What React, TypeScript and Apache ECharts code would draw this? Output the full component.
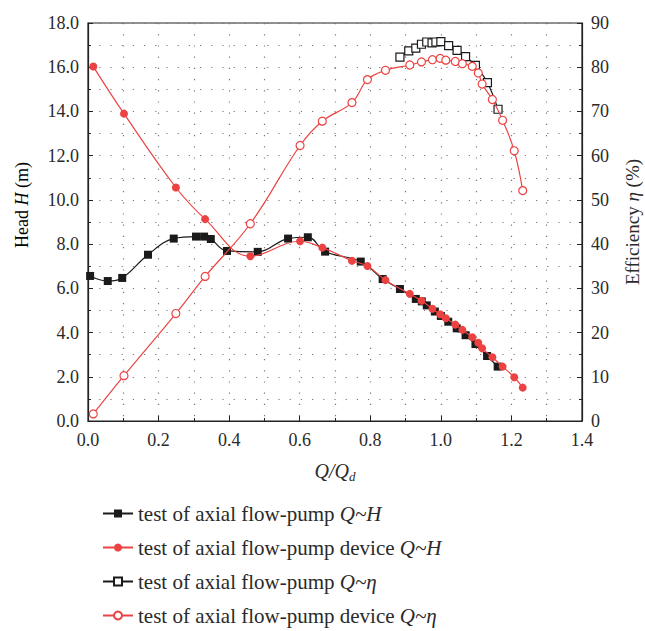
import React, { useEffect, useRef } from "react";
import * as echarts from "echarts";

const qPumpH = [0.006, 0.056, 0.097, 0.17, 0.243, 0.306, 0.329, 0.348, 0.394, 0.481, 0.567, 0.623, 0.672, 0.773, 0.835, 0.884, 0.929, 0.946, 0.96, 0.983, 1.0, 1.021, 1.045, 1.07, 1.098, 1.131, 1.161];
const hPump = [6.56, 6.33, 6.47, 7.52, 8.25, 8.34, 8.34, 8.23, 7.69, 7.65, 8.25, 8.31, 7.66, 7.21, 6.42, 5.97, 5.52, 5.41, 5.23, 4.95, 4.75, 4.49, 4.19, 3.88, 3.48, 2.94, 2.46];

const qDevice = [0.015, 0.102, 0.249, 0.332, 0.46, 0.601, 0.664, 0.748, 0.792, 0.843, 0.912, 0.945, 0.976, 0.998, 1.014, 1.041, 1.061, 1.089, 1.106, 1.117, 1.146, 1.175, 1.208, 1.232];
const hDevice = [16.03, 13.9, 10.56, 9.13, 7.45, 8.13, 7.84, 7.25, 7.01, 6.37, 5.75, 5.44, 5.08, 4.83, 4.65, 4.36, 4.12, 3.79, 3.54, 3.29, 2.88, 2.46, 1.98, 1.51];
const etaDevice = [1.6, 10.25, 24.3, 32.7, 44.6, 62.3, 67.8, 72.0, 77.2, 79.3, 80.5, 81.2, 81.7, 82.0, 81.6, 81.3, 80.8, 80.2, 78.7, 76.2, 72.7, 68.0, 61.1, 52.1];

const qPumpEta = [0.884, 0.909, 0.929, 0.945, 0.96, 0.975, 0.986, 1.0, 1.022, 1.046, 1.07, 1.098, 1.132, 1.162];
const etaPump = [82.3, 83.7, 84.3, 85.2, 85.7, 85.5, 85.7, 85.8, 84.9, 83.8, 82.4, 80.4, 76.5, 70.5];

const legendNames = [
  "test of axial flow-pump Q~H",
  "test of axial flow-pump device Q~H",
  "test of axial flow-pump Q~η",
  "test of axial flow-pump device Q~η",
];

const FONT = "Liberation Serif";
const BLACK = "#1a1a1a";
const RED = "#ec4242";
const TEXT = "#2a2a2a";

function zip(xs: number[], ys: number[]) {
  return xs.map((x, i) => [x, ys[i]]);
}

export default function App() {
  const ref = useRef<HTMLDivElement>(null);
  useEffect(() => {
    if (!ref.current) return;
    const chart = echarts.init(ref.current, null, { renderer: "svg" });
    const dotted = { color: "#777", width: 1.2, type: [1.2, 10] as any };
    const richFor = (size: number) => ({
      n: { fontFamily: FONT, fontSize: size, color: TEXT },
      i: { fontFamily: FONT, fontSize: size, color: TEXT, fontStyle: "italic" },
      s: { fontFamily: FONT, fontSize: Math.round(size * 0.65), color: TEXT, fontStyle: "italic", padding: [11, 0, 0, 0] },
    });
    chart.setOption({
      animation: false,
      backgroundColor: "#fff",
      grid: { left: 88, right: 63, top: 23, bottom: 210, outerBoundsMode: "none", containLabel: false, show: true, borderColor: "#222", borderWidth: 1.2, backgroundColor: "transparent" },
      graphic: [
        {
          type: "text",
          x: 22,
          y: 205,
          rotation: Math.PI / 2,
          style: {
            text: "{n|Head }{i|H}{n| (m)}",
            rich: richFor(18),
            align: "center",
            verticalAlign: "middle",
          },
        },
      ],
      legend: {
        orient: "vertical",
        left: 102,
        top: 503,
        padding: 0,
        itemWidth: 30,
        itemHeight: 10,
        itemGap: 13,
        data: legendNames,
        formatter: (name: string) => {
          const idx = name.indexOf("Q~");
          return "{n|" + name.slice(0, idx) + "}{i|" + name.slice(idx) + "}";
        },
        textStyle: {
          fontFamily: FONT,
          fontSize: 21,
          color: TEXT,
          rich: {
            n: { fontFamily: FONT, fontSize: 21, color: TEXT },
            i: { fontFamily: FONT, fontSize: 21, color: TEXT, fontStyle: "italic" },
          },
        },
      },
      xAxis: {
        type: "value",
        min: 0,
        max: 1.4,
        interval: 0.2,
        name: "{i|Q/Q}{s|d}",
        nameLocation: "middle",
        nameGap: 38,
        nameTextStyle: { rich: richFor(20) },
        axisLine: { show: true, lineStyle: { color: "#222", width: 1.2 } },
        axisTick: { show: true, inside: true, length: 5, lineStyle: { color: "#222" } },
        minorTick: { show: true, splitNumber: 2, length: 3, lineStyle: { color: "#222" } },
        axisLabel: { fontFamily: FONT, fontSize: 18, color: TEXT, margin: 10, formatter: (v: number) => v.toFixed(1) },
        splitLine: { show: true, lineStyle: dotted },
        minorSplitLine: { show: true, lineStyle: dotted },
      },
      yAxis: [
        {
          type: "value",
          min: 0,
          max: 18,
          interval: 2,
          axisLine: { show: true, lineStyle: { color: "#222", width: 1.2 } },
          axisTick: { show: true, inside: true, length: 5, lineStyle: { color: "#222" } },
          minorTick: { show: true, splitNumber: 2, length: 3, lineStyle: { color: "#222" } },
          axisLabel: { fontFamily: FONT, fontSize: 18, color: TEXT, margin: 9, formatter: (v: number) => v.toFixed(1) },
          splitLine: { show: true, lineStyle: dotted },
          minorSplitLine: { show: true, lineStyle: dotted },
        },
        {
          type: "value",
          min: 0,
          max: 90,
          interval: 10,
          position: "right",
          name: "{n|Efficiency }{i|η}{n| (%)}",
          nameLocation: "middle",
          nameGap: 41,
          nameRotate: 90,
          nameTextStyle: { rich: richFor(19) },
          axisLine: { show: true, lineStyle: { color: "#222", width: 1.2 } },
          axisTick: { show: true, inside: true, length: 5, lineStyle: { color: "#222" } },
          minorTick: { show: true, splitNumber: 2, length: 3, lineStyle: { color: "#222" } },
          axisLabel: { fontFamily: FONT, fontSize: 18, color: TEXT, margin: 9 },
          splitLine: { show: false },
        },
      ],
      series: [
        {
          name: legendNames[0],
          type: "line",
          yAxisIndex: 0,
          data: zip(qPumpH, hPump),
          smooth: 0.4,
          symbol: "rect",
          symbolSize: 8,
          lineStyle: { color: BLACK, width: 1.2 },
          itemStyle: { color: BLACK },
          z: 3,
        },
        {
          name: legendNames[1],
          type: "line",
          yAxisIndex: 0,
          data: zip(qDevice, hDevice),
          smooth: 0.4,
          symbol: "circle",
          symbolSize: 8,
          lineStyle: { color: RED, width: 1.2 },
          itemStyle: { color: RED },
          z: 4,
        },
        {
          name: legendNames[2],
          type: "line",
          yAxisIndex: 1,
          data: zip(qPumpEta, etaPump),
          smooth: 0.4,
          symbol: "rect",
          symbolSize: 8,
          lineStyle: { color: BLACK, width: 1.2 },
          itemStyle: { color: "#fff", borderColor: BLACK, borderWidth: 1.2 },
          z: 3,
        },
        {
          name: legendNames[3],
          type: "line",
          yAxisIndex: 1,
          data: zip(qDevice, etaDevice),
          smooth: 0.4,
          symbol: "circle",
          symbolSize: 8,
          lineStyle: { color: RED, width: 1.2 },
          itemStyle: { color: "#fff", borderColor: RED, borderWidth: 1.2 },
          z: 4,
        },
      ],
    });
    return () => chart.dispose();
  }, []);
  return (
    <div
      ref={ref}
      style={{ position: "fixed", left: 0, top: 0, width: 645, height: 631, background: "#fff" }}
    />
  );
}
